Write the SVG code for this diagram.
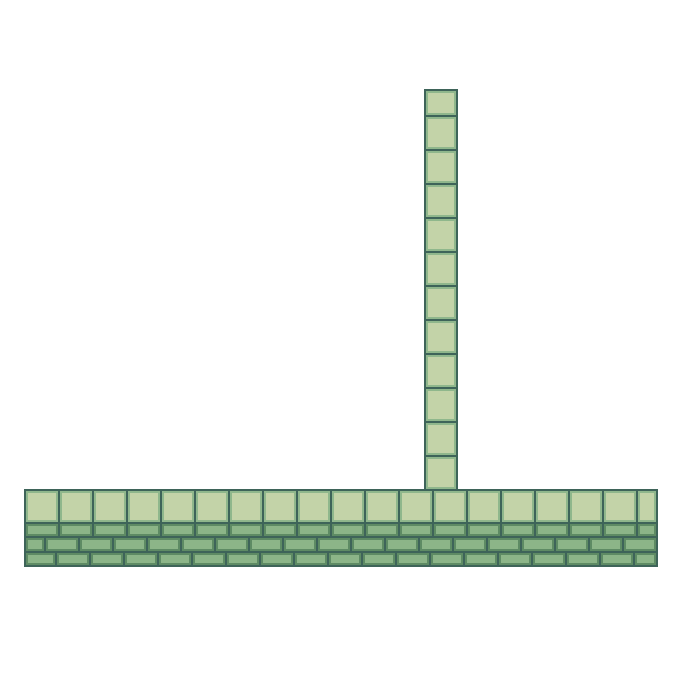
<svg xmlns="http://www.w3.org/2000/svg" width="700" height="700" viewBox="0 0 700 700">
<style>
.bg{fill:#3e6459}
.a{fill:#c3d3a8;stroke:#8fb78c;stroke-width:2}
.b{fill:#8cb588;stroke:#5e8b64;stroke-width:2}
</style>
<rect width="700" height="700" fill="#ffffff"/>
<g id="column">
<rect class="bg" x="424" y="89" width="34" height="402"/>
<rect class="a" x="427" y="92" width="28" height="22"/>
<rect class="a" x="427" y="118" width="28" height="30"/>
<rect class="a" x="427" y="152" width="28" height="30"/>
<rect class="a" x="427" y="186" width="28" height="30"/>
<rect class="a" x="427" y="220" width="28" height="30"/>
<rect class="a" x="427" y="254" width="28" height="30"/>
<rect class="a" x="427" y="288" width="28" height="30"/>
<rect class="a" x="427" y="322" width="28" height="30"/>
<rect class="a" x="427" y="356" width="28" height="30"/>
<rect class="a" x="427" y="390" width="28" height="30"/>
<rect class="a" x="427" y="424" width="28" height="30"/>
<rect class="a" x="427" y="458" width="28" height="30"/>
</g>
<g id="base">
<rect class="bg" x="24" y="489" width="634" height="78"/>
<g id="row1">
<rect class="a" x="27" y="492" width="30" height="29"/>
<rect class="a" x="61" y="492" width="30" height="29"/>
<rect class="a" x="95" y="492" width="30" height="29"/>
<rect class="a" x="129" y="492" width="30" height="29"/>
<rect class="a" x="163" y="492" width="30" height="29"/>
<rect class="a" x="197" y="492" width="30" height="29"/>
<rect class="a" x="231" y="492" width="30" height="29"/>
<rect class="a" x="265" y="492" width="30" height="29"/>
<rect class="a" x="299" y="492" width="30" height="29"/>
<rect class="a" x="333" y="492" width="30" height="29"/>
<rect class="a" x="367" y="492" width="30" height="29"/>
<rect class="a" x="401" y="492" width="30" height="29"/>
<rect class="a" x="435" y="492" width="30" height="29"/>
<rect class="a" x="469" y="492" width="30" height="29"/>
<rect class="a" x="503" y="492" width="30" height="29"/>
<rect class="a" x="537" y="492" width="30" height="29"/>
<rect class="a" x="571" y="492" width="30" height="29"/>
<rect class="a" x="605" y="492" width="30" height="29"/>
<rect class="a" x="639" y="492" width="16" height="29"/>
</g>
<g id="row2">
<rect class="b" x="27" y="525" width="30" height="10"/>
<rect class="b" x="61" y="525" width="30" height="10"/>
<rect class="b" x="95" y="525" width="30" height="10"/>
<rect class="b" x="129" y="525" width="30" height="10"/>
<rect class="b" x="163" y="525" width="30" height="10"/>
<rect class="b" x="197" y="525" width="30" height="10"/>
<rect class="b" x="231" y="525" width="30" height="10"/>
<rect class="b" x="265" y="525" width="30" height="10"/>
<rect class="b" x="299" y="525" width="30" height="10"/>
<rect class="b" x="333" y="525" width="30" height="10"/>
<rect class="b" x="367" y="525" width="30" height="10"/>
<rect class="b" x="401" y="525" width="30" height="10"/>
<rect class="b" x="435" y="525" width="30" height="10"/>
<rect class="b" x="469" y="525" width="30" height="10"/>
<rect class="b" x="503" y="525" width="30" height="10"/>
<rect class="b" x="537" y="525" width="30" height="10"/>
<rect class="b" x="571" y="525" width="30" height="10"/>
<rect class="b" x="605" y="525" width="30" height="10"/>
<rect class="b" x="639" y="525" width="16" height="10"/>
</g>
<g id="row3">
<rect class="b" x="27" y="539" width="16" height="11"/>
<rect class="b" x="47" y="539" width="30" height="11"/>
<rect class="b" x="81" y="539" width="30" height="11"/>
<rect class="b" x="115" y="539" width="30" height="11"/>
<rect class="b" x="149" y="539" width="30" height="11"/>
<rect class="b" x="183" y="539" width="30" height="11"/>
<rect class="b" x="217" y="539" width="30" height="11"/>
<rect class="b" x="251" y="539" width="30" height="11"/>
<rect class="b" x="285" y="539" width="30" height="11"/>
<rect class="b" x="319" y="539" width="30" height="11"/>
<rect class="b" x="353" y="539" width="30" height="11"/>
<rect class="b" x="387" y="539" width="30" height="11"/>
<rect class="b" x="421" y="539" width="30" height="11"/>
<rect class="b" x="455" y="539" width="30" height="11"/>
<rect class="b" x="489" y="539" width="30" height="11"/>
<rect class="b" x="523" y="539" width="30" height="11"/>
<rect class="b" x="557" y="539" width="30" height="11"/>
<rect class="b" x="591" y="539" width="30" height="11"/>
<rect class="b" x="625" y="539" width="30" height="11"/>
</g>
<g id="row4">
<rect class="b" x="27" y="554" width="27" height="10"/>
<rect class="b" x="58" y="554" width="30" height="10"/>
<rect class="b" x="92" y="554" width="30" height="10"/>
<rect class="b" x="126" y="554" width="30" height="10"/>
<rect class="b" x="160" y="554" width="30" height="10"/>
<rect class="b" x="194" y="554" width="30" height="10"/>
<rect class="b" x="228" y="554" width="30" height="10"/>
<rect class="b" x="262" y="554" width="30" height="10"/>
<rect class="b" x="296" y="554" width="30" height="10"/>
<rect class="b" x="330" y="554" width="30" height="10"/>
<rect class="b" x="364" y="554" width="30" height="10"/>
<rect class="b" x="398" y="554" width="30" height="10"/>
<rect class="b" x="432" y="554" width="30" height="10"/>
<rect class="b" x="466" y="554" width="30" height="10"/>
<rect class="b" x="500" y="554" width="30" height="10"/>
<rect class="b" x="534" y="554" width="30" height="10"/>
<rect class="b" x="568" y="554" width="30" height="10"/>
<rect class="b" x="602" y="554" width="30" height="10"/>
<rect class="b" x="636" y="554" width="19" height="10"/>
</g>
</g>
</svg>
